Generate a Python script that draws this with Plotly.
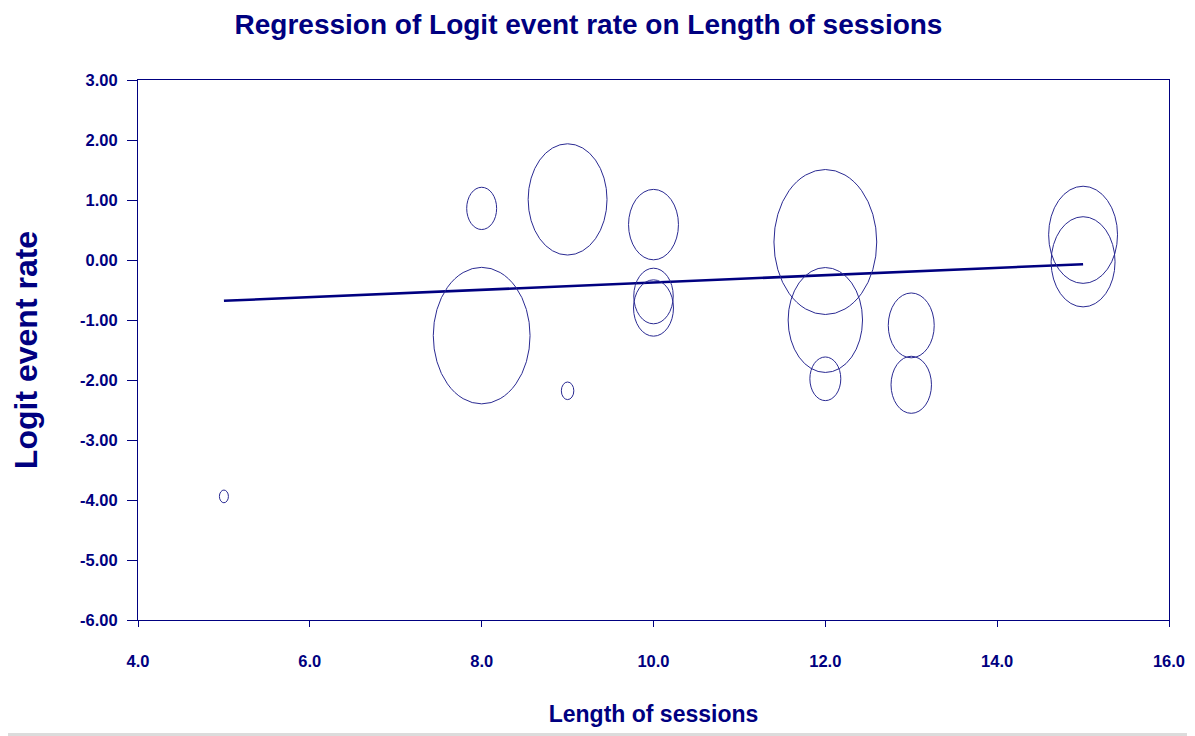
import numpy as np
import plotly.graph_objects as go

# ---- data ----
session_length = [5, 8, 8, 9, 9, 10, 10, 10, 12, 12, 12, 13, 13, 15, 15]
logit_rate = [-3.94, 0.86, -1.26, 1.01, -2.18, 0.59, -0.60, -0.80,
              0.30, -1.00, -1.98, -1.09, -2.08, 0.42, -0.03]
study_weight = [0.81, 9.0, 94.0, 62.4, 1.56, 25.0, 15.6, 16.0,
                106.0, 55.5, 9.6, 21.2, 16.4, 47.6, 41.0]
reg_x = [5, 15]
reg_intercept = -0.985
reg_slope = 0.061
x_ticks = [4, 6, 8, 10, 12, 14, 16]
y_ticks = [3, 2, 1, 0, -1, -2, -3, -4, -5, -6]

NAVY = "#000080"
BUBBLE = "#2a2a92"
FONT = "Liberation Sans, Arial, sans-serif"

# page has an 8px body margin; figure is sized to fill the rest of the window
FIG_W, FIG_H = 1187, 728

fig = go.Figure()

# bubble centres (invisible, for hover)
fig.add_trace(go.Scatter(
    x=session_length, y=logit_rate, mode="markers",
    marker=dict(size=2, opacity=0), showlegend=False,
    hovertemplate="Length %{x}<br>Logit %{y:.2f}<extra></extra>"))

# regression line
reg_y = [reg_intercept + reg_slope * xv for xv in reg_x]
fig.add_trace(go.Scatter(x=reg_x, y=reg_y, mode="lines",
                         line=dict(color=NAVY, width=2.6), showlegend=False,
                         hoverinfo="skip"))

# bubbles as ellipses in data coordinates (size ~ sqrt(weight))
RX_PER_SQRT_W = 0.0581
RY_OVER_RX = 2.02
shapes = []
for cx, cy, w in zip(session_length, logit_rate, study_weight):
    rx = RX_PER_SQRT_W * np.sqrt(w)
    ry = rx * RY_OVER_RX
    shapes.append(dict(type="circle", xref="x", yref="y",
                       x0=cx - rx, x1=cx + rx, y0=cy - ry, y1=cy + ry,
                       line=dict(color=BUBBLE, width=1), fillcolor="rgba(0,0,0,0)",
                       layer="above"))

# light strip at very bottom (screen edge in reference)
shapes.append(dict(type="rect", xref="paper", yref="paper",
                   x0=-0.2, x1=1.1, y0=-0.2148, y1=-0.2093,
                   line=dict(width=0), fillcolor="#dcdcdc", layer="below"))

fig.update_layout(
    width=FIG_W, height=FIG_H,
    margin=dict(l=129.5, r=25.5, t=72, b=116, autoexpand=False),
    paper_bgcolor="white", plot_bgcolor="white",
    shapes=shapes,
    title=dict(text="Regression of Logit event rate on Length of sessions",
               font=dict(family=FONT, size=28, color=NAVY, weight="bold"),
               xref="container", x=580.5 / FIG_W, xanchor="center",
               yref="container", y=1 - 16 / FIG_H, yanchor="middle"),
    xaxis=dict(range=[4, 16], tickvals=x_ticks,
               ticktext=[f"{v:.1f}" for v in x_ticks],
               showgrid=False, zeroline=False, automargin=False,
               showline=True, linecolor=NAVY, linewidth=1, mirror=True,
               ticks="outside", ticklen=6, tickcolor=NAVY, tickwidth=1,
               ticklabelstandoff=20,
               tickfont=dict(family=FONT, size=16.5, color=NAVY, weight="bold"),
               title=dict(text="Length of sessions", standoff=37,
                          font=dict(family=FONT, size=23, color=NAVY, weight="bold"))),
    yaxis=dict(range=[-6, 3], tickvals=y_ticks,
               ticktext=[f"{v:.2f}" for v in y_ticks],
               showgrid=False, zeroline=False, automargin=False,
               showline=True, linecolor=NAVY, linewidth=1, mirror=True,
               ticks="outside", ticklen=10, tickcolor=NAVY, tickwidth=1,
               ticklabelstandoff=6,
               tickfont=dict(family=FONT, size=16.5, color=NAVY, weight="bold"),
               title=dict(text="Logit event rate", standoff=40,
                          font=dict(family=FONT, size=32, color=NAVY, weight="bold"))),
)

fig.write_html("out.html")
